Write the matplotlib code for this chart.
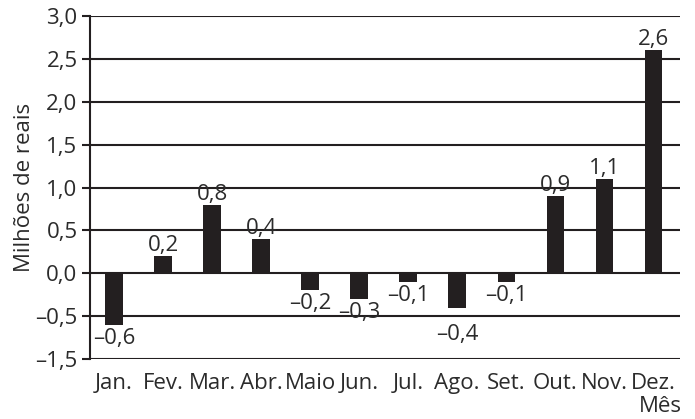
import matplotlib.pyplot as plt

meses = ['Jan.', 'Fev.', 'Mar.', 'Abr.', 'Maio', 'Jun.', 'Jul.',
         'Ago.', 'Set.', 'Out.', 'Nov.', 'Dez.']
valores = [-0.6, 0.2, 0.8, 0.4, -0.2, -0.3, -0.1, -0.4, -0.1, 0.9, 1.1, 2.6]
rotulos = ['–0,6', '0,2', '0,8', '0,4', '–0,2', '–0,3', '–0,1',
           '–0,4', '–0,1', '0,9', '1,1', '2,6']

yticks = [-1.0, -0.5, 0.0, 0.5, 1.0, 1.5, 2.0, 2.5, 3.0]
ytick_labels = ['–1,5', '–0,5', '0,0', '0,5', '1,0', '1,5', '2,0', '2,5', '3,0']

plt.rcParams['font.family'] = ['Open Sans', 'DejaVu Sans']
TXT = '#2b2b2b'
INK = '#231f20'
FS = 16

fig = plt.figure(figsize=(6.95, 4.19), dpi=100)
ax = fig.add_axes([0.1295, 0.143, 0.849, 0.819])

x = list(range(len(meses)))
for yv in yticks:
    ax.axhline(yv, color=INK, lw=1.5, zorder=1)
ax.bar(x, valores, width=0.35, color=INK, zorder=2)

for i, (v, r) in enumerate(zip(valores, rotulos)):
    if v >= 0:
        ax.annotate(r, (i, v), xytext=(0, 0), textcoords='offset points',
                    ha='center', va='bottom', fontsize=FS, color=TXT)
    else:
        off = -12 if meses[i] == 'Ago.' else -2
        ax.annotate(r, (i, v), xytext=(0, off), textcoords='offset points',
                    ha='center', va='top', fontsize=FS, color=TXT)

ax.set_xlim(-0.49, 11.55)
ax.set_ylim(-1.0, 3.0)
ax.set_yticks(yticks)
ax.set_yticklabels(ytick_labels)
ax.set_xticks(x)
ax.set_xticklabels(meses)
ax.tick_params(axis='y', length=6, width=1.5, color=INK, labelsize=FS,
               labelcolor=TXT, pad=3)
ax.tick_params(axis='x', length=0, labelsize=FS, labelcolor=TXT, pad=10)

for s in ['top', 'right', 'bottom']:
    ax.spines[s].set_visible(False)
ax.spines['left'].set_color(INK)
ax.spines['left'].set_linewidth(1.5)

ax.set_ylabel('Milhões de reais', fontsize=FS, color=TXT, labelpad=0)
fig.text(0.95, 0.03, 'Mês', ha='center', va='center', fontsize=FS, color=TXT)

fig.savefig('out.png', dpi=100)
